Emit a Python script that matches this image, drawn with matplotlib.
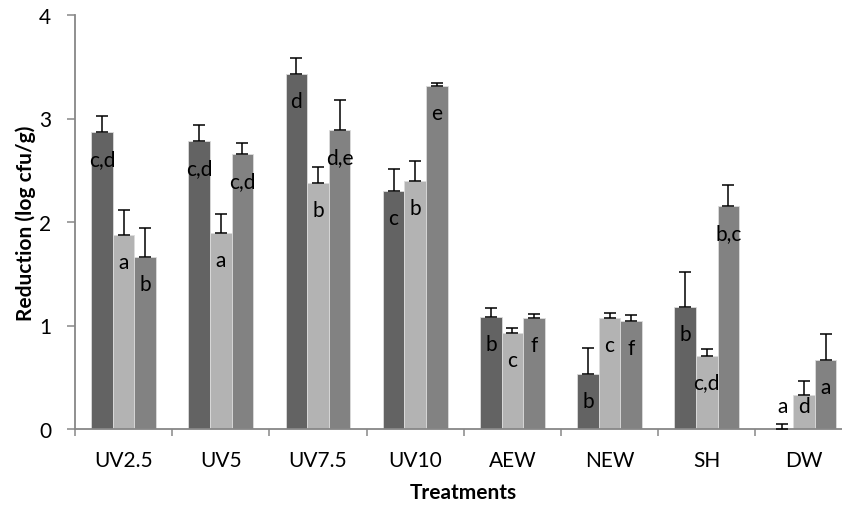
import matplotlib
matplotlib.use('Agg')
import matplotlib.pyplot as plt
import numpy as np

plt.rcParams['font.family'] = ['Lato', 'DejaVu Sans']

# treatments on the x axis
treatments = ['UV2.5', 'UV5', 'UV7.5', 'UV10', 'AEW', 'NEW', 'SH', 'DW']

# three series per treatment (mean reduction, upper error)
s1 = [2.87, 2.78, 3.43, 2.30, 1.08, 0.53, 1.18, 0.00]
s1_err = [0.15, 0.16, 0.15, 0.21, 0.09, 0.25, 0.34, 0.05]
s1_lab = ['c,d', 'c,d', 'd', 'c', 'b', 'b', 'b', 'a']

s2 = [1.87, 1.89, 2.38, 2.40, 0.93, 1.07, 0.71, 0.33]
s2_err = [0.25, 0.19, 0.15, 0.19, 0.05, 0.05, 0.065, 0.13]
s2_lab = ['a', 'a', 'b', 'b', 'c', 'c', 'c,d', 'd']

s3 = [1.66, 2.66, 2.89, 3.31, 1.07, 1.04, 2.15, 0.67]
s3_err = [0.28, 0.10, 0.29, 0.03, 0.04, 0.06, 0.21, 0.25]
s3_lab = ['b', 'c,d', 'd,e', 'e', 'f', 'f', 'b,c', 'a']

colors = ['#636363', '#b3b3b3', '#828282']
axis_col = '#878787'
fs = 15

fig = plt.figure(figsize=(8.42, 5.06), dpi=100)
ax = fig.add_axes([75/842, 76/506, 777.6/842, 414/506])

x = np.arange(len(treatments))
w = 0.222
series = [(s1, s1_err, s1_lab), (s2, s2_err, s2_lab), (s3, s3_err, s3_lab)]
for i, (vals, errs, labs) in enumerate(series):
    pos = x + (i - 1) * w
    ax.bar(pos, vals, width=w, color=colors[i], edgecolor='#dcdcdc', linewidth=0.6, zorder=2)
    ax.errorbar(pos, vals, yerr=[np.zeros(len(vals)), errs], fmt='none',
                ecolor='black', elinewidth=1.1, capsize=4, capthick=1.1, zorder=3)
    for p, v, t in zip(pos, vals, labs):
        ax.text(p, max(v - 0.26, 0.225), t, ha='center', va='center', fontsize=fs, zorder=4)

ax.set_xlim(-0.5, len(treatments) - 0.5)
ax.set_ylim(0, 4)
ax.set_yticks([0, 1, 2, 3, 4])
ax.set_xticks(x)
ax.set_xticklabels(treatments)
ax.set_xticks(np.arange(-0.5, len(treatments), 1), minor=True)
ax.tick_params(axis='x', which='major', length=0, pad=15, labelsize=fs)
ax.tick_params(axis='x', which='minor', length=5, width=1.1, color=axis_col, direction='out')
ax.tick_params(axis='y', length=6, width=1.1, color=axis_col, pad=11, labelsize=fs)

for sp in ['top', 'right']:
    ax.spines[sp].set_visible(False)
for sp in ['left', 'bottom']:
    ax.spines[sp].set_color(axis_col)
    ax.spines[sp].set_linewidth(1.3)

ax.set_xlabel('Treatments', fontsize=fs, fontweight='bold', labelpad=9)
ax.set_ylabel('Reduction (log cfu/g)', fontsize=fs, fontweight='bold')
ax.yaxis.set_label_coords(-0.05, 0.5)

fig.savefig('out.png', dpi=100)
